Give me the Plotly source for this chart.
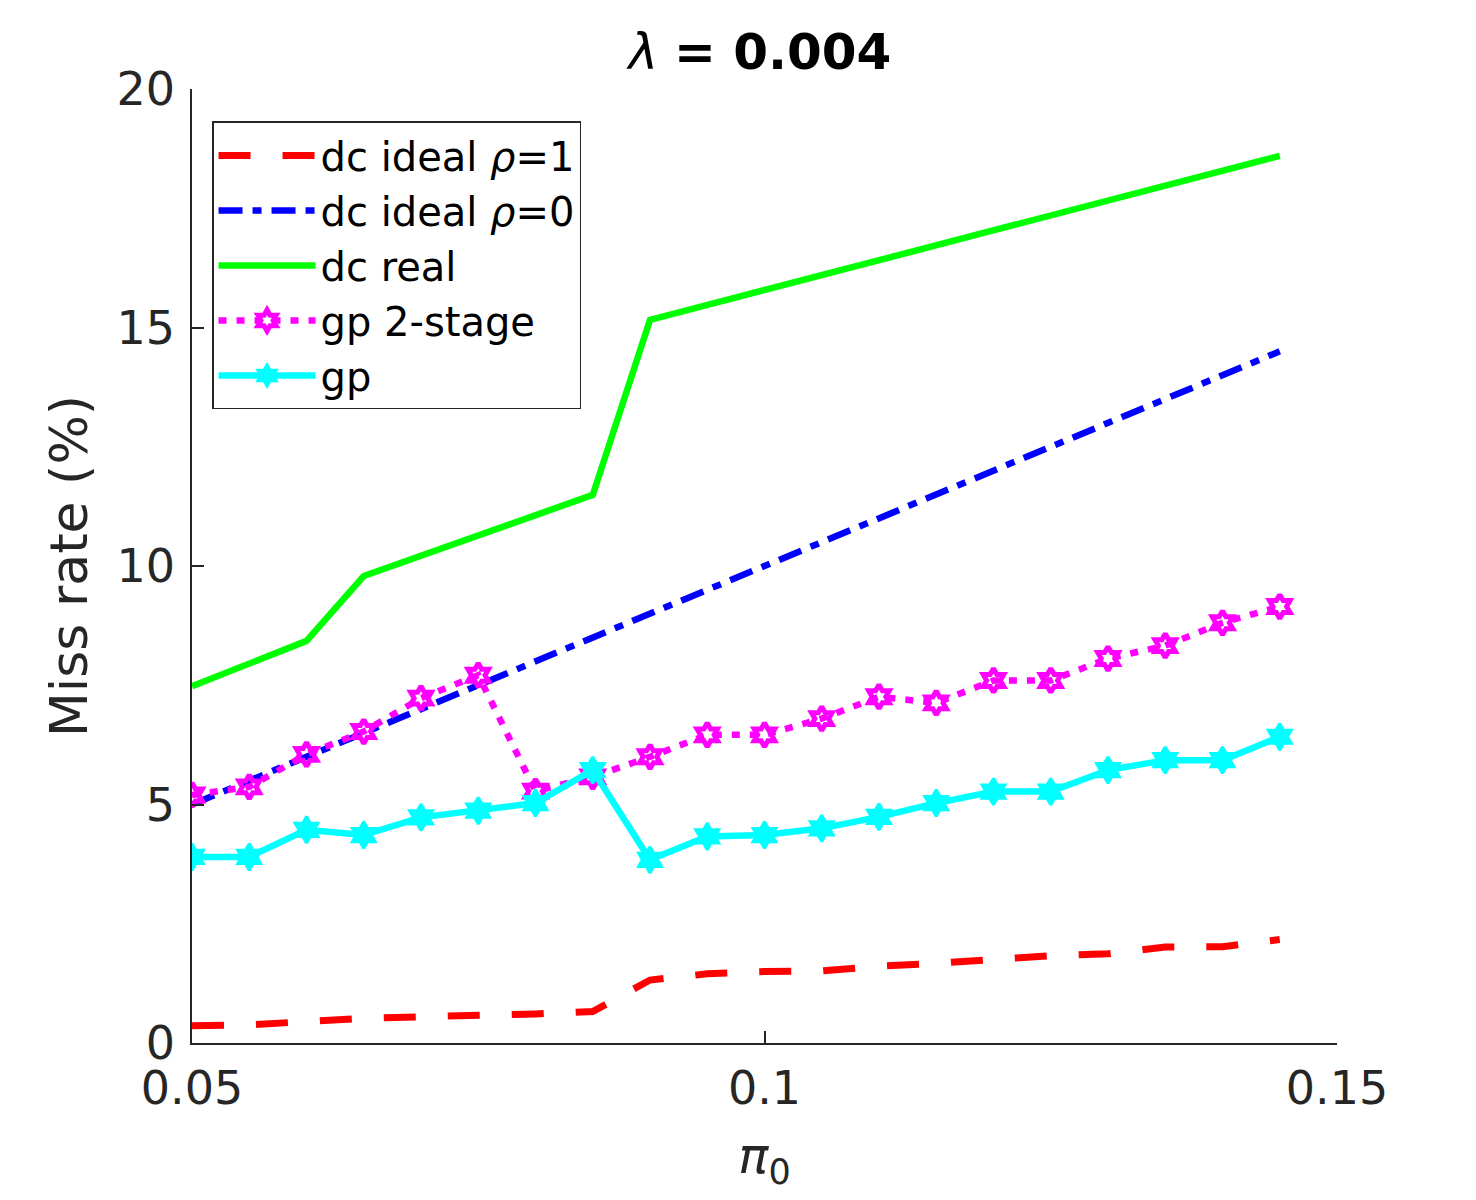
import plotly.graph_objects as go

pi0 = [0.05, 0.055, 0.06, 0.065, 0.07, 0.075, 0.08, 0.085, 0.09, 0.095,
       0.1, 0.105, 0.11, 0.115, 0.12, 0.125, 0.13, 0.135, 0.14, 0.145]

dc_ideal_rho1 = [0.36, 0.38, 0.45, 0.52, 0.55, 0.57, 0.61, 0.66, 1.32, 1.45,
                 1.50, 1.51, 1.61, 1.67, 1.75, 1.83, 1.87, 2.01, 2.02, 2.17]
dc_ideal_rho0 = [5.0, 5.5, 6.0, 6.5, 7.0, 7.5, 8.0, 8.5, 9.0, 9.5,
                 10.0, 10.5, 11.0, 11.5, 12.0, 12.5, 13.0, 13.5, 14.0, 14.5]
dc_real_x = [0.05, 0.06, 0.065, 0.085, 0.09, 0.145]
dc_real = [7.48, 8.43, 9.79, 11.49, 15.16, 18.6]
gp_2stage = [5.2, 5.37, 6.05, 6.53, 7.23, 7.71, 5.28, 5.58, 6.0, 6.46,
             6.46, 6.8, 7.26, 7.13, 7.6, 7.6, 8.06, 8.33, 8.81, 9.15]
gp = [3.9, 3.9, 4.47, 4.36, 4.73, 4.87, 5.03, 5.72, 3.84, 4.33,
      4.36, 4.5, 4.74, 5.03, 5.27, 5.27, 5.72, 5.93, 5.93, 6.42]

names = ["dc ideal <i>ρ</i>=1", "dc ideal <i>ρ</i>=0", "dc real", "gp 2-stage", "gp"]
x_ticks = [0.05, 0.1, 0.15]
x_ticklabels = ["0.05", "0.1", "0.15"]
y_ticks = [0, 5, 10, 15, 20]

FONT = "DejaVu Sans"
AX = "#262626"

fig = go.Figure()
fig.add_trace(go.Scatter(x=pi0, y=dc_ideal_rho1, mode="lines", name=names[0],
                         line=dict(color="#ff0000", width=7, dash="32px,32px")))
fig.add_trace(go.Scatter(x=pi0, y=dc_ideal_rho0, mode="lines", name=names[1],
                         line=dict(color="#0000ff", width=6.5, dash="24px,10px,9px,10px")))
fig.add_trace(go.Scatter(x=dc_real_x, y=dc_real, mode="lines", name=names[2],
                         line=dict(color="#00ff00", width=6.5)))
fig.add_trace(go.Scatter(x=pi0, y=gp_2stage, mode="lines+markers", name=names[3],
                         line=dict(color="#ff00ff", width=6.5, dash="8px,10px"),
                         marker=dict(symbol="hexagram-open", size=18, color="#ff00ff",
                                     line=dict(width=5, color="#ff00ff"))))
fig.add_trace(go.Scatter(x=pi0, y=gp, mode="lines+markers", name=names[4],
                         line=dict(color="#00ffff", width=6.5),
                         marker=dict(symbol="hexagram", size=20, color="#00ffff",
                                     line=dict(width=3, color="#00ffff"))))

fig.update_layout(
    width=1460, height=1184,
    margin=dict(l=184, r=131, t=81, b=149),
    paper_bgcolor="white", plot_bgcolor="white",
    font=dict(family=FONT, size=46, color=AX),
    title=dict(text="<i>λ</i> <b>= 0.004</b>", x=0.515, xanchor="center",
               y=0.963, yanchor="middle", font=dict(size=50, color="black", family=FONT)),
    showlegend=True,
    legend=dict(x=0.0175, y=0.966, xanchor="left", yanchor="top",
                bgcolor="white", bordercolor=AX, borderwidth=1.5,
                font=dict(size=40, color="black", family=FONT),
                tracegroupgap=0, itemwidth=97),
)
fig.update_xaxes(range=[0.05, 0.15], tickvals=x_ticks, ticktext=x_ticklabels,
                 showgrid=False, zeroline=False, showline=True, linecolor=AX, linewidth=1.5,
                 ticks="inside", ticklen=12, tickwidth=1.5, tickcolor=AX,
                 ticklabelstandoff=4,
                 tickfont=dict(size=46, color=AX),
                 title=dict(text="<i>π</i><sub>0</sub>", font=dict(size=50, color=AX), standoff=30))
fig.update_yaxes(range=[0, 20], tickvals=y_ticks,
                 showgrid=False, zeroline=False, showline=True, linecolor=AX, linewidth=1.5,
                 ticks="inside", ticklen=12, tickwidth=1.5, tickcolor=AX,
                 ticklabelstandoff=6,
                 tickfont=dict(size=46, color=AX),
                 title=dict(text="Miss rate (%)", font=dict(size=52, color=AX), standoff=12))

fig.write_html("out.html")
